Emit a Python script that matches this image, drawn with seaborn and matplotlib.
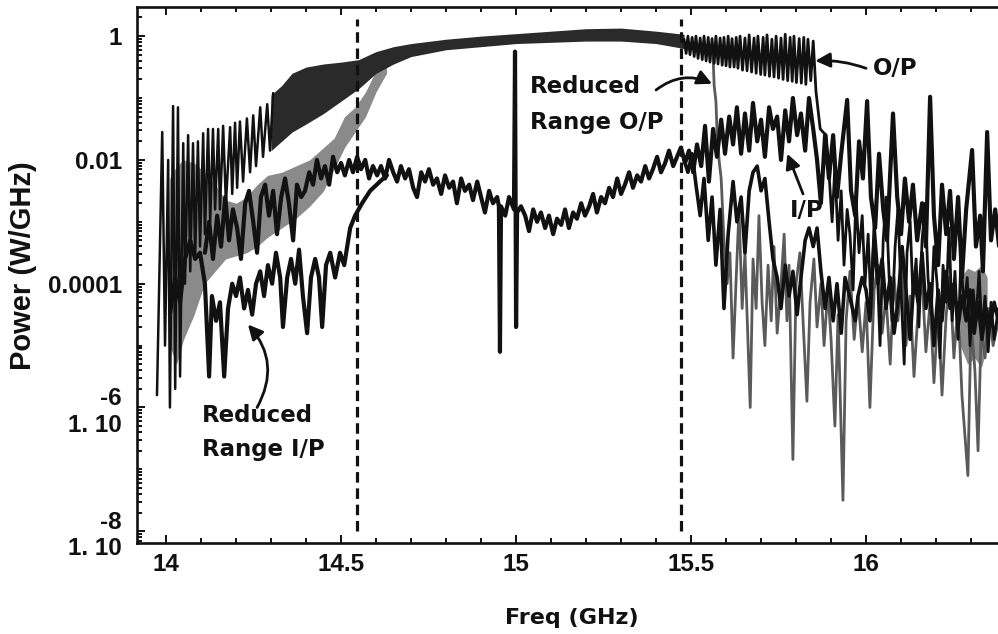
import numpy as np
import matplotlib
matplotlib.use("Agg")
import matplotlib.pyplot as plt
import matplotlib.ticker as mticker
import seaborn as sns

# Spectra: (frequency GHz, log10 power W/GHz)

# O/P: spiky start, dense band in the middle (envelope), oscillations then fall-off
op_left = [(13.974, -5.8), (13.989, -1.55), (13.997, -5.0), (14.006, -2.0), (14.011, -6.0),
           (14.020, -1.13), (14.026, -5.7), (14.034, -1.15), (14.040, -5.5), (14.049, -1.73),
           (14.054, -4.0), (14.063, -1.6), (14.069, -3.8), (14.077, -1.73), (14.083, -3.6),
           (14.091, -1.7), (14.097, -3.4), (14.106, -1.57), (14.111, -3.2), (14.120, -1.5),
           (14.126, -3.0), (14.134, -1.5), (14.140, -2.8), (14.149, -1.5), (14.154, -2.8),
           (14.163, -1.45), (14.171, -2.7), (14.183, -1.47), (14.189, -2.55), (14.197, -1.4),
           (14.203, -2.45), (14.211, -1.38), (14.220, -2.35), (14.231, -1.33), (14.240, -2.2),
           (14.249, -1.28), (14.257, -2.1), (14.269, -1.15), (14.277, -1.95), (14.289, -1.1),
           (14.297, -1.85), (14.306, -0.92)]

op_band_f = [14.30, 14.33, 14.36, 14.40, 14.45, 14.50, 14.55, 14.60, 14.65, 14.70,
             14.80, 14.90, 15.00, 15.10, 15.20, 15.30, 15.40, 15.48]
op_band_hi = [-0.95, -0.8, -0.6, -0.5, -0.45, -0.42, -0.38, -0.25, -0.17, -0.12,
              -0.05, 0.0, 0.04, 0.08, 0.12, 0.13, 0.08, 0.03]
op_band_lo = [-1.85, -1.7, -1.55, -1.42, -1.25, -1.05, -0.85, -0.6, -0.45, -0.33,
              -0.22, -0.17, -0.12, -0.1, -0.08, -0.08, -0.12, -0.2]

op_right = [(15.480, -0.05), (15.486, -0.28), (15.491, 0.0), (15.497, -0.3), (15.503, -0.02),
            (15.509, -0.33), (15.514, 0.0), (15.520, -0.36), (15.526, -0.03), (15.532, -0.38),
            (15.537, 0.0), (15.543, -0.40), (15.549, -0.02), (15.554, -0.42), (15.560, -0.04),
            (15.566, -0.44), (15.571, 0.0), (15.577, -0.45), (15.583, -0.03), (15.589, -0.47),
            (15.594, -0.02), (15.600, -0.48), (15.606, 0.0), (15.611, -0.5), (15.617, -0.04),
            (15.623, -0.5), (15.629, -0.02), (15.634, -0.52), (15.640, 0.0), (15.647, -0.55),
            (15.654, -0.03), (15.660, -0.56), (15.666, 0.02), (15.673, -0.58), (15.680, -0.03),
            (15.686, -0.6), (15.691, 0.0), (15.699, -0.62), (15.706, -0.02), (15.711, -0.63),
            (15.717, 0.02), (15.724, -0.65), (15.731, -0.05), (15.737, -0.66), (15.743, 0.0),
            (15.750, -0.68), (15.757, -0.03), (15.763, -0.7), (15.769, 0.03), (15.776, -0.72),
            (15.783, -0.02), (15.789, -0.73), (15.794, 0.0), (15.801, -0.75), (15.809, -0.04),
            (15.815, -0.76), (15.822, -0.02), (15.828, -0.78), (15.834, -0.05), (15.842, -0.72),
            (15.849, -0.08), (15.857, -0.9), (15.869, -1.5), (15.877, -1.55), (15.886, -1.6),
            (15.894, -2.2), (15.903, -3.0), (15.911, -2.1), (15.920, -3.3), (15.929, -2.5),
            (15.937, -3.7), (15.946, -2.8), (15.954, -3.2), (15.963, -4.1), (15.971, -2.6),
            (15.980, -3.5), (15.989, -2.9), (15.997, -4.0), (16.006, -3.2), (16.014, -4.4),
            (16.023, -3.0), (16.031, -3.6), (16.040, -5.0), (16.049, -3.3), (16.057, -2.6),
            (16.066, -3.9), (16.074, -4.6), (16.083, -3.4), (16.091, -2.8), (16.100, -4.1),
            (16.109, -5.3), (16.117, -3.5), (16.126, -3.0), (16.134, -4.2), (16.143, -3.6),
            (16.151, -4.7), (16.160, -3.3), (16.169, -2.7), (16.177, -3.9), (16.186, -4.5),
            (16.194, -3.4), (16.203, -4.0), (16.211, -5.2), (16.220, -3.7), (16.229, -4.3),
            (16.237, -3.1), (16.246, -4.6), (16.254, -3.8), (16.263, -4.9), (16.271, -3.6),
            (16.280, -4.4), (16.289, -3.9), (16.297, -5.0), (16.306, -4.1), (16.314, -4.6),
            (16.323, -3.8), (16.331, -4.8), (16.340, -4.2), (16.349, -5.1), (16.357, -4.3),
            (16.366, -4.9), (16.378, -4.4)]

# Reduced range O/P: grey band on the left, drop at 15.56 GHz
rop_band_f = [14.01, 14.03, 14.05, 14.08, 14.11, 14.14, 14.17, 14.20, 14.23, 14.26, 14.29,
              14.33, 14.37, 14.41, 14.45, 14.48, 14.51, 14.54, 14.57, 14.60, 14.63]
rop_band_hi = [-2.3, -2.1, -2.0, -2.05, -2.2, -2.4, -2.65, -2.7, -2.6, -2.4, -2.25,
               -2.2, -2.1, -2.0, -1.8, -1.65, -1.3, -1.15, -0.9, -0.55, -0.35]
rop_band_lo = [-5.0, -5.3, -4.9, -4.5, -4.0, -3.8, -3.6, -3.55, -3.5, -3.4, -3.25,
               -3.1, -2.95, -2.75, -2.5, -2.15, -1.8, -1.55, -1.3, -0.9, -0.6]

rop_right = [(15.563, -0.35), (15.566, -0.8), (15.571, -1.05), (15.574, -1.5), (15.580, -2.0),
             (15.586, -2.3), (15.594, -3.3), (15.603, -4.0), (15.611, -3.5), (15.620, -5.2),
             (15.629, -3.9), (15.637, -2.8), (15.646, -4.4), (15.654, -3.5), (15.669, -6.0),
             (15.677, -3.6), (15.686, -4.4), (15.694, -2.9), (15.703, -4.3), (15.711, -5.0),
             (15.720, -3.7), (15.729, -4.6), (15.737, -3.4), (15.746, -4.8), (15.757, -4.0),
             (15.766, -3.2), (15.774, -4.6), (15.780, -3.7), (15.791, -6.84), (15.800, -4.0),
             (15.811, -3.5), (15.820, -4.6), (15.831, -5.9), (15.840, -4.3), (15.851, -3.6),
             (15.860, -4.7), (15.871, -4.0), (15.880, -5.0), (15.891, -4.1), (15.900, -4.9),
             (15.911, -6.3), (15.920, -4.5), (15.934, -7.5), (15.943, -4.6), (15.954, -3.8),
             (15.966, -4.9), (15.977, -4.2), (15.989, -5.1), (16.000, -4.3), (16.011, -6.0),
             (16.023, -4.1), (16.034, -3.7), (16.046, -4.8), (16.057, -4.2), (16.069, -5.3),
             (16.080, -3.9), (16.091, -4.6), (16.103, -3.8), (16.114, -5.0), (16.126, -4.2),
             (16.137, -5.5), (16.149, -4.4), (16.160, -3.9), (16.171, -5.1), (16.183, -4.3),
             (16.194, -5.6), (16.206, -4.4), (16.217, -5.8), (16.229, -4.5), (16.240, -3.9),
             (16.251, -5.2), (16.263, -4.3), (16.274, -5.8), (16.291, -7.1), (16.300, -4.6),
             (16.311, -5.4), (16.320, -6.7), (16.329, -4.7), (16.340, -5.2), (16.351, -4.4),
             (16.363, -5.0), (16.378, -4.6)]

rop_tail_f = [16.269, 16.29, 16.31, 16.33, 16.346]
rop_tail_hi = [-3.9, -3.75, -3.8, -3.7, -3.9]
rop_tail_lo = [-5.0, -5.3, -5.2, -5.35, -5.0]

# I/P
ip = [(14.111, -3.5), (14.123, -3.0), (14.134, -3.6), (14.146, -2.9), (14.157, -3.4),
      (14.169, -2.6), (14.180, -3.3), (14.191, -2.8), (14.203, -3.1), (14.214, -3.6),
      (14.226, -2.7), (14.237, -2.5), (14.249, -3.0), (14.260, -3.5), (14.271, -2.6),
      (14.283, -2.4), (14.294, -2.9), (14.306, -2.5), (14.317, -3.2), (14.329, -2.6),
      (14.340, -2.3), (14.351, -2.7), (14.363, -3.3), (14.374, -2.4), (14.386, -2.6),
      (14.397, -2.5), (14.409, -2.2), (14.420, -2.4), (14.431, -2.0), (14.443, -2.3),
      (14.454, -2.1), (14.466, -2.4), (14.477, -1.95), (14.489, -2.2), (14.500, -2.05),
      (14.511, -2.25), (14.523, -2.0), (14.534, -2.2), (14.546, -1.95), (14.557, -2.15),
      (14.569, -2.0), (14.580, -2.3), (14.591, -2.1), (14.603, -2.25), (14.614, -2.1),
      (14.626, -2.3), (14.637, -2.0), (14.649, -2.2), (14.660, -2.35), (14.671, -2.1),
      (14.683, -2.3), (14.694, -2.15), (14.706, -2.45), (14.717, -2.6), (14.729, -2.2),
      (14.740, -2.35), (14.751, -2.15), (14.763, -2.4), (14.774, -2.3), (14.786, -2.55),
      (14.797, -2.25), (14.809, -2.45), (14.820, -2.35), (14.831, -2.7), (14.843, -2.3),
      (14.854, -2.5), (14.866, -2.4), (14.877, -2.65), (14.889, -2.35), (14.900, -2.6),
      (14.911, -2.85), (14.923, -2.5), (14.934, -2.7), (14.946, -2.6), (14.951, -2.75),
      (14.954, -5.1), (14.957, -2.75), (14.969, -2.9), (14.980, -2.6), (14.994, -2.8),
      (14.997, -0.25), (15.000, -4.7), (15.003, -2.85), (15.014, -2.75), (15.026, -2.9),
      (15.037, -3.15), (15.049, -2.8), (15.060, -3.0), (15.071, -2.85), (15.083, -3.1),
      (15.094, -2.9), (15.106, -3.2), (15.117, -2.95), (15.129, -3.05), (15.140, -2.8),
      (15.151, -3.1), (15.163, -2.85), (15.174, -2.95), (15.186, -2.7), (15.197, -2.9),
      (15.209, -2.75), (15.220, -2.55), (15.231, -2.85), (15.243, -2.6), (15.254, -2.7),
      (15.266, -2.45), (15.277, -2.6), (15.289, -2.3), (15.300, -2.55), (15.311, -2.4),
      (15.323, -2.2), (15.334, -2.45), (15.346, -2.25), (15.357, -2.35), (15.369, -2.1),
      (15.380, -2.3), (15.391, -2.15), (15.403, -1.95), (15.414, -2.2), (15.426, -2.05),
      (15.437, -1.85), (15.449, -2.1), (15.460, -1.95), (15.471, -1.8), (15.483, -2.05),
      (15.494, -1.85), (15.506, -2.2), (15.517, -1.75), (15.529, -2.1), (15.540, -1.45),
      (15.551, -2.35), (15.563, -1.5), (15.574, -1.95), (15.586, -1.35), (15.597, -1.9),
      (15.609, -1.3), (15.620, -1.75), (15.631, -1.15), (15.643, -1.9), (15.654, -1.25),
      (15.666, -1.85), (15.677, -1.08), (15.689, -1.7), (15.700, -1.35), (15.711, -1.95),
      (15.723, -1.15), (15.734, -1.5), (15.746, -1.3), (15.757, -2.0), (15.769, -1.2),
      (15.780, -1.7), (15.791, -1.0), (15.803, -1.6), (15.814, -1.25), (15.826, -1.85),
      (15.837, -1.0), (15.849, -1.5), (15.860, -2.0), (15.871, -2.7), (15.883, -1.6),
      (15.894, -2.3), (15.906, -1.6), (15.917, -2.6), (15.929, -1.9), (15.946, -1.03),
      (15.957, -2.5), (15.969, -2.9), (15.980, -1.7), (15.991, -2.3), (16.003, -1.05),
      (16.014, -2.6), (16.026, -3.1), (16.037, -1.9), (16.049, -2.8), (16.060, -3.3),
      (16.077, -1.25), (16.089, -2.6), (16.100, -3.2), (16.111, -2.3), (16.123, -3.0),
      (16.134, -2.4), (16.146, -3.3), (16.160, -2.7), (16.171, -3.4), (16.183, -0.98),
      (16.194, -2.9), (16.206, -3.7), (16.217, -2.4), (16.229, -3.2), (16.240, -2.5),
      (16.251, -3.6), (16.263, -2.6), (16.274, -3.9), (16.286, -2.8), (16.303, -1.84),
      (16.314, -3.4), (16.326, -2.9), (16.334, -3.8), (16.346, -1.55), (16.357, -3.3),
      (16.369, -2.8), (16.380, -3.4)]

# Reduced range I/P
rip_left = [(14.011, -4.5), (14.026, -3.9), (14.040, -4.3), (14.054, -3.6), (14.069, -3.3),
            (14.083, -3.6), (14.097, -3.5), (14.111, -4.0), (14.123, -5.5), (14.131, -4.2),
            (14.143, -4.6), (14.154, -4.3), (14.166, -5.5), (14.177, -4.4), (14.189, -4.0),
            (14.200, -4.2), (14.211, -3.9), (14.223, -4.4), (14.234, -4.1), (14.246, -4.5),
            (14.257, -4.0), (14.269, -3.8), (14.280, -4.2), (14.291, -3.7), (14.303, -4.0),
            (14.314, -3.5), (14.326, -3.9), (14.334, -4.7), (14.346, -3.9), (14.357, -3.6),
            (14.369, -4.0), (14.380, -3.45), (14.391, -4.2), (14.403, -4.8), (14.414, -3.9),
            (14.426, -3.6), (14.437, -3.9), (14.446, -4.7), (14.457, -3.7), (14.469, -3.5),
            (14.483, -3.9), (14.497, -3.5), (14.509, -3.7), (14.526, -3.1), (14.540, -2.9),
            (14.560, -2.7), (14.583, -2.5), (14.611, -2.35), (14.631, -2.25)]

rip_right = [(15.480, -2.0), (15.491, -2.2), (15.503, -1.9), (15.514, -2.4), (15.526, -2.9),
             (15.537, -2.3), (15.549, -3.3), (15.560, -2.6), (15.571, -3.7), (15.583, -2.8),
             (15.594, -4.4), (15.606, -3.2), (15.620, -2.35), (15.631, -3.0), (15.643, -2.6),
             (15.654, -3.5), (15.666, -2.5), (15.677, -2.2), (15.689, -2.1), (15.700, -2.5),
             (15.711, -2.3), (15.723, -3.0), (15.734, -3.6), (15.746, -3.9), (15.757, -4.4),
             (15.769, -3.7), (15.780, -4.2), (15.791, -3.8), (15.803, -4.5), (15.814, -3.9),
             (15.826, -3.3), (15.837, -3.1), (15.849, -3.4), (15.860, -3.1), (15.871, -3.8),
             (15.883, -4.4), (15.894, -3.9), (15.906, -4.6), (15.917, -4.0), (15.929, -4.8),
             (15.940, -3.9), (15.957, -4.3), (15.969, -4.6), (15.977, -4.2), (15.989, -3.9),
             (16.000, -4.1), (16.011, -4.6), (16.023, -3.3), (16.034, -4.0), (16.046, -3.6),
             (16.057, -4.4), (16.069, -3.9), (16.080, -4.8), (16.091, -4.3), (16.103, -3.4),
             (16.114, -4.1), (16.126, -4.9), (16.137, -3.9), (16.149, -4.3), (16.160, -3.5),
             (16.171, -4.4), (16.183, -4.0), (16.194, -5.0), (16.206, -4.1), (16.217, -4.6),
             (16.229, -3.8), (16.240, -4.4), (16.251, -4.0), (16.263, -4.7), (16.274, -4.2),
             (16.286, -4.6), (16.297, -4.1), (16.309, -4.8), (16.320, -4.3), (16.331, -4.9),
             (16.343, -4.4), (16.354, -4.7), (16.366, -4.3), (16.378, -4.6)]

cut_freqs = [14.546, 15.471]
ytick_vals = [1, 1e-2, 1e-4, 1e-6, 1e-8]
ytick_text = ["1", "0.01", "0.0001", "-6\n1. 10", "-8\n1. 10"]


def pts(p):
    a = np.array(p)
    return a[:, 0], 10.0 ** a[:, 1]


sns.set_theme(style="ticks")
plt.rcParams["font.family"] = ["Liberation Sans", "DejaVu Sans"]
plt.rcParams["font.weight"] = "bold"
plt.rcParams["axes.labelweight"] = "bold"

fig = plt.figure(figsize=(9.98, 6.34), dpi=100)
ax = fig.add_axes([0.1373, 0.1435, 0.8627, 0.8454])
ax.set_yscale("log")

black = "#111111"
grey = "#8a8a8a"

# bands (dense oscillation)
ax.fill_between(rop_band_f, 10.0 ** np.array(rop_band_lo), 10.0 ** np.array(rop_band_hi),
                color=grey, lw=0, zorder=1)
ax.fill_between(rop_tail_f, 10.0 ** np.array(rop_tail_lo), 10.0 ** np.array(rop_tail_hi),
                color=grey, lw=0, zorder=1)
ax.fill_between(op_band_f, 10.0 ** np.array(op_band_lo), 10.0 ** np.array(op_band_hi),
                color="#2a2a2a", lw=0, zorder=2)

lines = [(rop_right, "#5a5a5a", 2.0),
         (rip_left, black, 3.0), (rip_right, black, 2.6),
         (ip, black, 3.0),
         (op_left, black, 1.8), (op_right, black, 2.0)]
for p, c, w in lines:
    fx, fy = pts(p)
    sns.lineplot(x=fx, y=fy, ax=ax, color=c, lw=w, estimator=None, sort=False, zorder=3)

ax.vlines(cut_freqs, 1e-8, 10 ** 0.27, colors=black, lw=2.3,
          linestyles=(0, (3.3, 1.8)), zorder=4)

ax.set_xlim(13.917, 16.377)
ax.set_ylim(10 ** -8.19, 10 ** 0.47)

ax.xaxis.set_major_locator(mticker.MultipleLocator(0.5))
ax.xaxis.set_minor_locator(mticker.MultipleLocator(0.1))
ax.xaxis.set_major_formatter(mticker.FuncFormatter(lambda v, p: f"{v:g}"))
ax.yaxis.set_major_locator(mticker.FixedLocator(ytick_vals))
ax.yaxis.set_major_formatter(mticker.FixedFormatter(ytick_text))
ax.yaxis.set_minor_locator(mticker.LogLocator(base=10, subs=np.arange(1, 10), numticks=40))
ax.yaxis.set_minor_formatter(mticker.NullFormatter())

ax.tick_params(which="both", direction="in", top=True, right=False, color=black, width=1.4)
ax.tick_params(which="major", length=6, labelsize=17.5, labelcolor=black)
ax.tick_params(which="minor", length=3.5)
ax.tick_params(axis="y", which="major", pad=11)
ax.tick_params(axis="x", which="major", pad=7)

for s in ["left", "bottom", "top"]:
    ax.spines[s].set_linewidth(1.9)
    ax.spines[s].set_color(black)
ax.spines["right"].set_visible(False)

ax.set_xlabel("Freq (GHz)", fontsize=16, color=black, family="DejaVu Sans")
ax.set_ylabel("Power (W/GHz)", fontsize=21, color=black)
ax.xaxis.set_label_coords(0.505, -0.121)
ax.yaxis.set_label_coords(-0.116, 0.517)

txt = dict(fontsize=16.5, fontweight="bold", color=black, va="center", ha="left",
           family="DejaVu Sans", zorder=6)
ax.text(15.04, 10 ** -0.82, "Reduced", **txt)
ax.text(15.04, 10 ** -1.39, "Range O/P", **txt)
ax.text(16.02, 10 ** -0.53, "O/P", **txt)
ax.text(15.783, 10 ** -2.82, "I/P", **txt)
ax.text(14.103, 10 ** -6.13, "Reduced", **txt)
ax.text(14.103, 10 ** -6.68, "Range I/P", **txt)

arr = dict(arrowstyle="-|>", color=black, lw=2.0, mutation_scale=22, shrinkA=0, shrinkB=0)
ax.annotate("", xy=(15.56, 10 ** -0.77), xytext=(15.40, 10 ** -0.87),
            arrowprops=dict(connectionstyle="arc3,rad=-0.3", **arr), zorder=6)
ax.annotate("", xy=(15.855, 10 ** -0.40), xytext=(16.0, 10 ** -0.52),
            arrowprops=dict(connectionstyle="arc3,rad=0.1", **arr), zorder=6)
ax.annotate("", xy=(15.775, 10 ** -1.9), xytext=(15.82, 10 ** -2.55),
            arrowprops=dict(connectionstyle="arc3,rad=0.0", **arr), zorder=6)
ax.annotate("", xy=(14.234, 10 ** -4.66), xytext=(14.26, 10 ** -6.0),
            arrowprops=dict(connectionstyle="arc3,rad=0.35", **arr), zorder=6)

fig.savefig("out.png", dpi=100)
